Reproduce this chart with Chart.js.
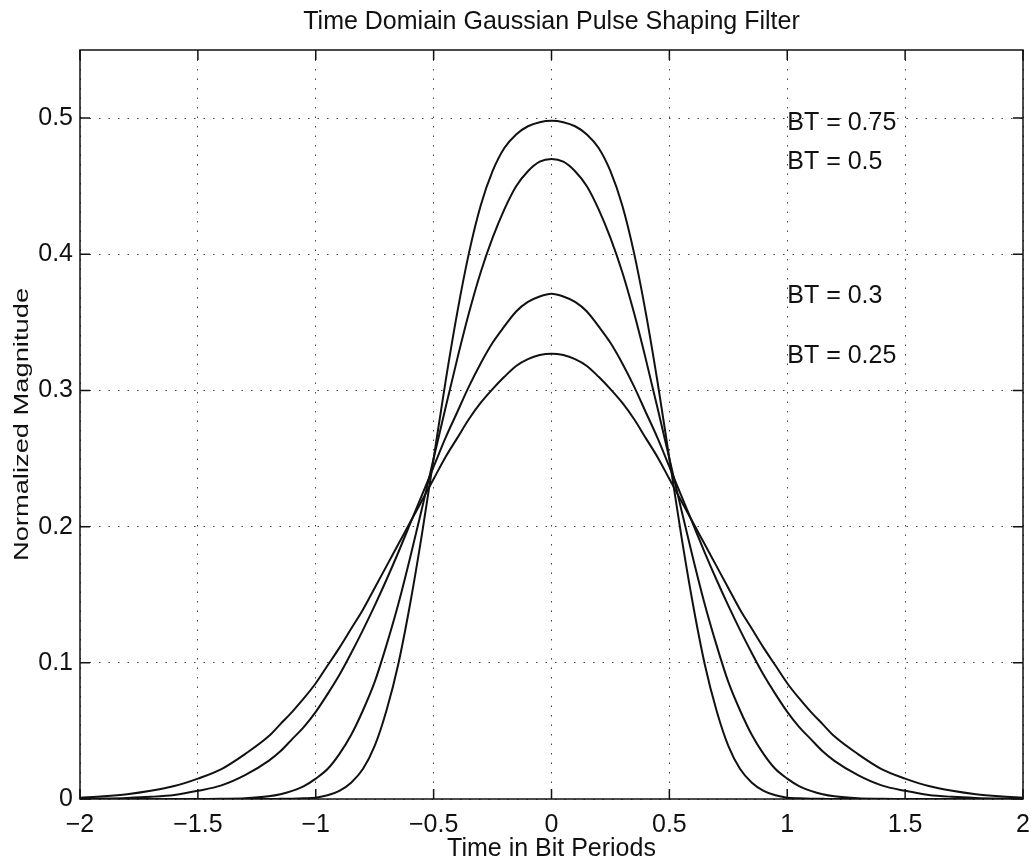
<!DOCTYPE html>
<html>
<head>
<meta charset="utf-8">
<title>Time Domain Gaussian Pulse Shaping Filter</title>
<script src="https://cdn.jsdelivr.net/npm/chart.js@4.4.1/dist/chart.umd.min.js"></script>
<style>
    html, body { margin: 0; padding: 0; background: #fff; }
    #wrap { width: 1031px; height: 865px; position: relative; }
</style>
</head>
<body>
<div id="wrap"><canvas id="c1"></canvas></div>
<script>
/* ── Data ──────────────────────────────────────────────── */
const TIME = [
    -2.0, -1.9, -1.8, -1.7, -1.6, -1.5, -1.4, -1.3,
    -1.2, -1.15, -1.1, -1.05, -1.0, -0.95, -0.9, -0.85, -0.8, -0.75, -0.7, -0.65,
    -0.6, -0.55, -0.5, -0.45, -0.4, -0.35, -0.3, -0.25, -0.2, -0.15, -0.1, -0.05,
    0.0,
    0.05, 0.1, 0.15, 0.2, 0.25, 0.3, 0.35, 0.4, 0.45, 0.5, 0.55, 0.6,
    0.65, 0.7, 0.75, 0.8, 0.85, 0.9, 0.95, 1.0, 1.05, 1.1, 1.15, 1.2,
    1.3, 1.4, 1.5, 1.6, 1.7, 1.8, 1.9, 2.0,
];

const BT_075 = [
    0, 0, 0, 0, 0, 0, 0, 0,
    0, 0.0001, 0.0002, 0.0005, 0.001, 0.0027, 0.006, 0.012, 0.022, 0.039, 0.065, 0.099,
    0.143, 0.194, 0.250, 0.306, 0.357, 0.401, 0.436, 0.461, 0.478, 0.488, 0.494, 0.497,
    0.498,
    0.497, 0.494, 0.488, 0.478, 0.461, 0.436, 0.401, 0.357, 0.306, 0.250, 0.194, 0.143,
    0.099, 0.065, 0.039, 0.022, 0.012, 0.006, 0.0027, 0.001, 0.0005, 0.0002, 0.0001, 0,
    0, 0, 0, 0, 0, 0, 0, 0,
];

const BT_05 = [
    0, 0, 0, 0, 0, 0, 0.0002, 0.0006,
    0.002, 0.0035, 0.006, 0.0095, 0.015, 0.022, 0.033, 0.047, 0.065, 0.086, 0.113, 0.143,
    0.177, 0.213, 0.250, 0.287, 0.323, 0.357, 0.387, 0.412, 0.433, 0.450, 0.461, 0.468,
    0.470,
    0.468, 0.461, 0.450, 0.433, 0.412, 0.387, 0.357, 0.323, 0.287, 0.250, 0.213, 0.177,
    0.143, 0.113, 0.086, 0.065, 0.047, 0.033, 0.022, 0.015, 0.0095, 0.006, 0.0035, 0.002,
    0.0006, 0.0002, 0, 0, 0, 0, 0, 0,
];

const BT_03 = [
    0.0002, 0.0004, 0.0008, 0.0016, 0.003, 0.006, 0.010, 0.0175,
    0.028, 0.035, 0.044, 0.053, 0.064, 0.077, 0.091, 0.107, 0.124, 0.142, 0.161, 0.181,
    0.202, 0.223, 0.244, 0.265, 0.284, 0.303, 0.320, 0.335, 0.347, 0.358, 0.365, 0.369,
    0.371,
    0.369, 0.365, 0.358, 0.347, 0.335, 0.320, 0.303, 0.284, 0.265, 0.244, 0.223, 0.202,
    0.181, 0.161, 0.142, 0.124, 0.107, 0.091, 0.077, 0.064, 0.053, 0.044, 0.035, 0.028,
    0.0175, 0.010, 0.006, 0.003, 0.0016, 0.0008, 0.0004, 0.0002,
];

const BT_025 = [
    0.001, 0.002, 0.0035, 0.006, 0.0095, 0.015, 0.022, 0.033,
    0.046, 0.055, 0.064, 0.074, 0.085, 0.098, 0.111, 0.125, 0.139, 0.155, 0.171, 0.187,
    0.203, 0.219, 0.235, 0.251, 0.265, 0.279, 0.291, 0.301, 0.310, 0.318, 0.323, 0.326,
    0.327,
    0.326, 0.323, 0.318, 0.310, 0.301, 0.291, 0.279, 0.265, 0.251, 0.235, 0.219, 0.203,
    0.187, 0.171, 0.155, 0.139, 0.125, 0.111, 0.098, 0.085, 0.074, 0.064, 0.055, 0.046,
    0.033, 0.022, 0.015, 0.0095, 0.006, 0.0035, 0.002, 0.001,
];

const X_TICKS = [-2, -1.5, -1, -0.5, 0, 0.5, 1, 1.5, 2];
const Y_TICKS = [0, 0.1, 0.2, 0.3, 0.4, 0.5];

const LABELS  = ['BT = 0.75', 'BT = 0.5', 'BT = 0.3', 'BT = 0.25'];
const LABEL_T = [1.0, 1.0, 1.0, 1.0];
const LABEL_Y = [0.496, 0.468, 0.369, 0.325];

/* ── Shared styles ─────────────────────────────────────── */
const FONT_FAMILY = '"Liberation Sans", Arial, Helvetica, sans-serif';
const INK = '#111';

Chart.defaults.font.family = FONT_FAMILY;
Chart.defaults.color = INK;

function pts(ys) {
    return TIME.map(function (t, i) { return { x: t, y: ys[i] }; });
}

function fmt(v) {
    const s = String(Math.round(v * 100) / 100);
    return v < 0 ? '\u2212' + s.slice(1) : s;
}

const LINE = {
    borderColor            : INK,
    borderWidth            : 2,
    pointRadius            : 0,
    fill                   : false,
    cubicInterpolationMode : 'monotone',
};

const GRID = {
    color     : '#444',
    lineWidth : 1,
    drawTicks : false,
};

/* ── Frame, inward ticks, curve labels, y title ────────── */
const decor = {
    id : 'decor',
    afterDraw(chart) {
        const { ctx, chartArea: a, scales: { x, y } } = chart;
        ctx.save();
        ctx.strokeStyle = INK;
        ctx.lineWidth   = 1.5;
        ctx.setLineDash([]);
        ctx.strokeRect(a.left, a.top, a.right - a.left, a.bottom - a.top);

        const TL = 10;
        ctx.beginPath();
        X_TICKS.forEach(function (v) {
            const px = x.getPixelForValue(v);
            ctx.moveTo(px, a.bottom); ctx.lineTo(px, a.bottom - TL);
            ctx.moveTo(px, a.top);    ctx.lineTo(px, a.top + TL);
        });
        Y_TICKS.forEach(function (v) {
            const py = y.getPixelForValue(v);
            ctx.moveTo(a.left, py);  ctx.lineTo(a.left + TL, py);
            ctx.moveTo(a.right, py); ctx.lineTo(a.right - TL, py);
        });
        ctx.stroke();

        ctx.fillStyle    = INK;
        ctx.font         = '25px ' + FONT_FAMILY;
        ctx.textAlign    = 'left';
        ctx.textBaseline = 'middle';
        LABELS.forEach(function (txt, i) {
            ctx.fillText(txt, x.getPixelForValue(LABEL_T[i]), y.getPixelForValue(LABEL_Y[i]));
        });

        // y title: the scan stretches it along its length
        ctx.translate(22, (a.top + a.bottom) / 2);
        ctx.rotate(-Math.PI / 2);
        ctx.scale(1.3, 1);
        ctx.font      = '21px ' + FONT_FAMILY;
        ctx.textAlign = 'center';
        ctx.fillText('Normalized Magnitude', 0, 0);
        ctx.restore();
    },
};

/* ── Chart ─────────────────────────────────────────────── */
new Chart(document.getElementById('c1'), {
    type : 'line',
    data : {
        datasets : [
            { ...LINE, label: 'BT = 0.75', data: pts(BT_075) },
            { ...LINE, label: 'BT = 0.5',  data: pts(BT_05)  },
            { ...LINE, label: 'BT = 0.3',  data: pts(BT_03)  },
            { ...LINE, label: 'BT = 0.25', data: pts(BT_025) },
        ],
    },
    options : {
        responsive          : true,
        maintainAspectRatio : false,
        animation           : false,
        layout  : { padding: { left: 0, right: 8, top: 0, bottom: 0 } },
        plugins : {
            legend  : { display: false },
            tooltip : { enabled: false },
            title   : {
                display  : true,
                fullSize : false,
                text     : 'Time Domiain Gaussian Pulse Shaping Filter',
                color    : INK,
                font     : { size: 25, weight: 'normal' },
                padding  : { top: 7, bottom: 13 },
            },
        },
        scales : {
            x : {
                type   : 'linear',
                min    : -2,
                max    : 2,
                grid   : GRID,
                border : { display: false, dash: [1.5, 8] },
                afterBuildTicks(s) { s.ticks = X_TICKS.map(function (v) { return { value: v }; }); },
                afterFit(s) { s.height = 66; s.paddingLeft = 0; s.paddingRight = 0; },
                ticks  : {
                    padding     : 11,
                    maxRotation : 0,
                    color       : INK,
                    font        : { size: 25 },
                    callback    : fmt,
                },
                title  : {
                    display : true,
                    text    : 'Time in Bit Periods',
                    color   : INK,
                    font    : { size: 25 },
                    padding : { top: 0, bottom: 1 },
                },
            },
            y : {
                min    : 0,
                max    : 0.55,
                grid   : GRID,
                border : { display: false, dash: [1.5, 8] },
                afterBuildTicks(s) { s.ticks = Y_TICKS.map(function (v) { return { value: v }; }); },
                afterFit(s) { s.width = 80; },
                ticks  : {
                    padding  : 7,
                    color    : INK,
                    font     : { size: 25 },
                    callback : fmt,
                },
            },
        },
    },
    plugins : [decor],
});
</script>
</body>
</html>
